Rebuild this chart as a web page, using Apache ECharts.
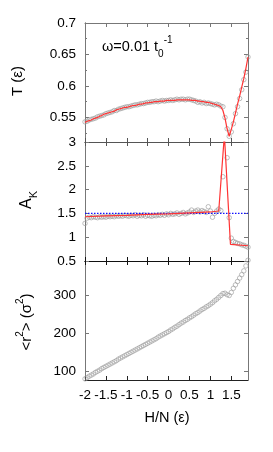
<!DOCTYPE html>
<html><head><meta charset="utf-8">
<script src="https://cdn.jsdelivr.net/npm/echarts@6/dist/echarts.min.js"></script>
<style>html,body{margin:0;padding:0;background:#fff}#c{width:273px;height:452px}</style>
</head><body><div id="c"></div>
<script>
// H/N values (x)
const hn = [-2.00,-1.95,-1.90,-1.85,-1.80,-1.75,-1.70,-1.65,-1.60,-1.55,-1.50,-1.45,-1.40,-1.35,-1.30,-1.25,-1.20,-1.15,-1.10,-1.05,
 -1.00,-0.95,-0.90,-0.85,-0.80,-0.75,-0.70,-0.65,-0.60,-0.55,-0.50,-0.45,-0.40,-0.35,-0.30,-0.25,-0.20,-0.15,-0.10,-0.05,
 0.00,0.05,0.10,0.15,0.20,0.25,0.30,0.35,0.40,0.45,0.50,0.55,0.60,0.65,0.70,0.75,0.80,0.85,0.90,0.95,
 1.00,1.05,1.10,1.15,1.20,1.25,1.30,1.35,1.40,1.45,1.50,1.55,1.60,1.65,1.70,1.75,1.80,1.85,1.90];
// T markers
const tMarks = [0.543,0.544,0.546,0.547,0.548,0.549,0.551,0.552,0.553,0.554,0.556,0.557,0.558,0.559,0.561,0.561,0.563,0.564,0.565,0.566,
 0.567,0.567,0.568,0.569,0.570,0.570,0.571,0.572,0.572,0.573,0.574,0.574,0.575,0.575,0.576,0.575,0.576,0.577,0.576,0.577,
 0.577,0.578,0.577,0.578,0.579,0.578,0.579,0.579,0.578,0.579,0.579,0.578,0.577,0.576,0.574,0.575,0.573,0.574,0.572,0.573,
 0.572,0.571,0.570,0.571,0.570,0.568,0.567,0.550,0.532,0.520,0.527,0.540,0.556,0.567,0.580,0.594,0.610,0.622,0.646];
// T fit (red line)
const tFit = [0.542,0.544,0.545,0.546,0.548,0.549,0.550,0.552,0.553,0.555,0.556,0.557,0.558,0.559,0.560,0.562,0.563,0.564,0.565,0.566,
 0.566,0.567,0.568,0.569,0.569,0.570,0.571,0.571,0.572,0.573,0.573,0.574,0.574,0.575,0.575,0.575,0.576,0.576,0.576,0.577,
 0.577,0.577,0.577,0.577,0.578,0.578,0.578,0.578,0.578,0.578,0.578,0.577,0.577,0.577,0.576,0.576,0.575,0.575,0.574,0.574,
 0.573,0.572,0.571,0.570,0.569,0.567,0.561,0.549,0.532,0.520,0.531,0.543,0.557,0.571,0.584,0.598,0.612,0.628,0.646];
// A_K markers
const akMarks = [1.29,1.40,1.42,1.41,1.43,1.42,1.41,1.43,1.42,1.43,1.42,1.44,1.43,1.44,1.43,1.45,1.44,1.45,1.44,1.46,
 1.45,1.44,1.46,1.45,1.47,1.44,1.46,1.45,1.47,1.44,1.46,1.45,1.44,1.46,1.45,1.47,1.46,1.48,1.46,1.49,
 1.47,1.50,1.48,1.49,1.51,1.48,1.50,1.52,1.49,1.51,1.53,1.57,1.52,1.55,1.57,1.53,1.56,1.54,1.52,1.64,
 1.55,1.42,1.50,1.55,1.59,1.56,2.27,3.25,2.67,1.41,0.98,0.91,0.89,0.87,0.86,0.84,0.83,0.81,0.79];
// A_K fit (red line)
const akFitX = [-2.0,-1.5,-1.0,-0.5,0.0,0.5,1.0,1.2,1.335,1.48,1.9];
const akFitY = [1.43,1.45,1.46,1.48,1.49,1.51,1.53,1.55,3.15,0.85,0.82];
const akRef = 1.5;
// <r^2> markers
const r2 = [79,82,86,89,92,96,99,102,106,109,112,115,118,121,124,127,131,134,137,140,
 143,146,149,152,155,158,161,164,167,170,173,176,179,182,185,189,192,195,198,201,
 204,208,211,215,218,222,226,229,233,236,240,243,247,251,254,258,262,265,269,272,
 276,280,285,289,294,299,304,305,301,299,307,318,327,336,345,354,364,377,392];
const xTicks = [-2,-1.5,-1,-0.5,0,0.5,1,1.5];
const tTicks = [0.55,0.6,0.65,0.7];
const tMinor = [0.525,0.575,0.625,0.675];
const akTicks = [0.5,1,1.5,2,2.5,3];
const r2Ticks = [100,200,300];

const FONT = "'Liberation Sans', Arial, sans-serif";
const chart = echarts.init(document.getElementById('c'), null, {renderer:'canvas'});
const L = 85, R = 25, W = 273 - L - R;
const grids = [
  {left:L, width:W, top:23, height:119},
  {left:L, width:W, top:142, height:119},
  {left:L, width:W, top:261, height:119}
];
function xAx(g, pos, col, labels){
  return {type:'value', gridIndex:g, position:pos, min:-2, max:1.9,
    axisLine:{show:true, onZero:false, lineStyle:{color:col, width:1}},
    axisTick:{show:true, inside:true, length:4, customValues:xTicks, lineStyle:{color:col}},
    axisLabel:{show:labels, customValues:xTicks, margin:8, color:'#000', fontSize:13.5, fontFamily:FONT},
    splitLine:{show:false}};
}
function yAx(g, pos, min, max, ticks, labels, len, col){
  return {type:'value', gridIndex:g, position:pos, min:min, max:max,
    axisLine:{show:true, onZero:false, lineStyle:{color:col||'#777', width:1}},
    axisTick:{show:true, inside:true, length:len||4, customValues:ticks, lineStyle:{color:col||'#777'}},
    axisLabel:{show:labels, customValues:ticks, margin:9, color:'#000', fontSize:13.5, fontFamily:FONT},
    splitLine:{show:false}};
}
const xAxis = [
  xAx(0,'bottom','#555',false), xAx(0,'top','#777',false),
  xAx(1,'bottom','#111',false), xAx(1,'top','#555',false),
  xAx(2,'bottom','#222',true), xAx(2,'top','#111',false)
];
const yAxis = [
  yAx(0,'left',0.511,0.7,tTicks,true), yAx(0,'right',0.511,0.7,tTicks,false),
  yAx(1,'left',0.5,3,akTicks,true), yAx(1,'right',0.5,3,akTicks,false),
  yAx(2,'left',76,390,r2Ticks,true), yAx(2,'right',76,390,r2Ticks,false),
  yAx(0,'left',0.511,0.7,tMinor,false,2), yAx(0,'right',0.511,0.7,tMinor,false,2)
];
const mk = {color:'rgba(0,0,0,0)', borderColor:'#999', borderWidth:0.8};
const series = [
  {type:'scatter', xAxisIndex:0, yAxisIndex:0, symbol:'circle', symbolSize:4.5, itemStyle:mk,
    data: hn.map((x,i)=>[x,tMarks[i]]), z:2},
  {type:'line', xAxisIndex:0, yAxisIndex:0, showSymbol:false, symbol:'none',
    lineStyle:{color:'#ff3333', width:1.2}, data: hn.map((x,i)=>[x,tFit[i]]), z:3},
  {type:'scatter', xAxisIndex:2, yAxisIndex:2, symbol:'circle', symbolSize:4.5, itemStyle:mk,
    data: hn.map((x,i)=>[x,akMarks[i]]), z:2},
  {type:'line', xAxisIndex:2, yAxisIndex:2, symbol:'none',
    lineStyle:{color:'#1010ff', width:1.2, type:[1.5,1.5]}, data:[[-2,akRef],[1.9,akRef]], z:3},
  {type:'line', xAxisIndex:2, yAxisIndex:2, symbol:'none',
    lineStyle:{color:'#ff3333', width:1.2}, data: akFitX.map((x,i)=>[x,akFitY[i]]), z:4},
  {type:'scatter', xAxisIndex:4, yAxisIndex:4, symbol:'circle', symbolSize:4.5, itemStyle:mk, clip:false,
    data: hn.map((x,i)=>[x,r2[i]]), z:2}
];
const graphic = [
  {type:'text', x:18, y:81, rotation:Math.PI/2, style:{text:'T (ε)', fontSize:15, fontFamily:FONT, fill:'#000', align:'center', verticalAlign:'middle'}},
  {type:'text', x:27, y:200, rotation:Math.PI/2, style:{text:'{a|A}{s|K}', align:'center', verticalAlign:'middle', fill:'#000',
    rich:{a:{fontSize:16, fontFamily:FONT, lineHeight:24, verticalAlign:'middle'}, s:{fontSize:11, fontFamily:FONT, verticalAlign:'bottom', lineHeight:12}}}},
  {type:'text', x:27, y:322, rotation:Math.PI/2, style:{text:'<r{p|2}> (σ{p|2})', align:'center', verticalAlign:'middle', fill:'#000',
    fontSize:15, fontFamily:FONT, lineHeight:24,
    rich:{p:{fontSize:10, fontFamily:FONT, verticalAlign:'top', lineHeight:10}}}},
  {type:'text', x:102, y:47, style:{text:'ω=0.01 t{s|0}{p|-1}', align:'left', verticalAlign:'middle', fill:'#000',
    fontSize:14.5, fontFamily:FONT, lineHeight:24,
    rich:{s:{fontSize:10, fontFamily:FONT, verticalAlign:'bottom', lineHeight:10}, p:{fontSize:10, fontFamily:FONT, verticalAlign:'top', lineHeight:10}}}},
  {type:'text', x:167, y:418, style:{text:'H/N (ε)', fontSize:14.5, fontFamily:FONT, fill:'#000', align:'center', verticalAlign:'middle'}}
];
chart.setOption({animation:false, backgroundColor:'#fff', grid:grids, xAxis, yAxis, series, graphic});
</script></body></html>
